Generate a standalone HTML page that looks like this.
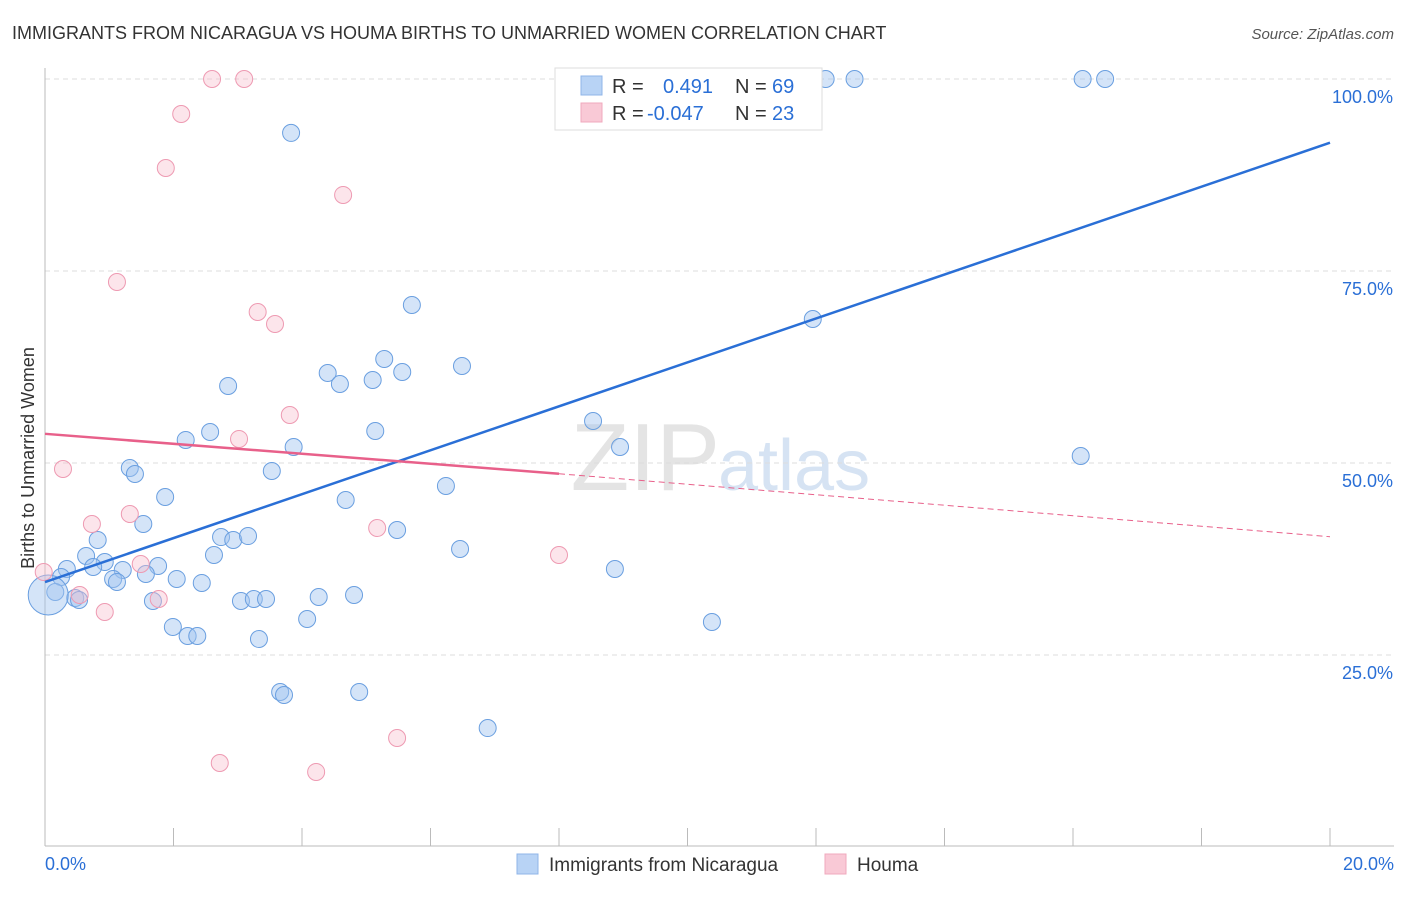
<!DOCTYPE html>
<html><head><meta charset="utf-8"><style>
body{margin:0;background:#fff;font-family:"Liberation Sans",sans-serif;}
svg text{font-family:"Liberation Sans",sans-serif;}
</style></head><body>
<svg id="chart" width="1406" height="892">
<text x="12" y="39" font-size="18" fill="#333">IMMIGRANTS FROM NICARAGUA VS HOUMA BIRTHS TO UNMARRIED WOMEN CORRELATION CHART</text>
<text x="1394" y="39" font-size="15" fill="#555" font-style="italic" text-anchor="end">Source: ZipAtlas.com</text>
<text x="720" y="490" font-size="96" fill="#e4e4e4" text-anchor="end" font-family="Liberation Serif">ZIP</text>
<text x="718" y="490" font-size="72" fill="#d6e3f3">atlas</text>
<g id="grid"></g><g id="axes"></g><g id="marks"></g>
<text transform="translate(34,458) rotate(-90)" font-size="18" fill="#333" text-anchor="middle">Births to Unmarried Women</text>
<g>
<rect x="555" y="68" width="267" height="62" fill="#fff" stroke="#ddd"/>
<rect x="581" y="76" width="21" height="19" fill="#b8d3f5" stroke="#8fb5e8"/>
<rect x="581" y="103" width="21" height="19" fill="#f9c9d6" stroke="#f0a9bd"/>
<text x="612" y="93" font-size="20" fill="#333">R = </text><text x="663" y="93" font-size="20" fill="#2a6fd6">0.491</text>
<text x="735" y="93" font-size="20" fill="#333">N = </text><text x="772" y="93" font-size="20" fill="#2a6fd6">69</text>
<text x="612" y="120" font-size="20" fill="#333">R = </text><text x="647" y="120" font-size="20" fill="#2a6fd6">-0.047</text>
<text x="735" y="120" font-size="20" fill="#333">N = </text><text x="772" y="120" font-size="20" fill="#2a6fd6">23</text>
</g>
<g>
<rect x="517" y="854" width="21" height="20" fill="#b8d3f5" stroke="#8fb5e8"/>
<text x="549" y="871" font-size="19" fill="#333">Immigrants from Nicaragua</text>
<rect x="825" y="854" width="21" height="20" fill="#f9c9d6" stroke="#f0a9bd"/>
<text x="857" y="871" font-size="19" fill="#333">Houma</text>
</g>
</svg>
<script>
const xTicks=[0,2,4,6,8,10,12,14,16,18,20];
const yTicks=[25,50,75,100];
const blueX=[12.15,12.6,16.15,16.5,23.1,3.83,5.71,11.95,5.28,4.4,4.59,5.1,5.56,6.49,2.85,2.57,2.19,5.14,3.87,8.53,8.95,16.12,1.32,1.4,3.53,1.87,4.68,6.24,1.53,5.48,0.82,2.74,2.93,3.16,6.46,0.64,0.93,2.63,0.34,0.75,1.76,1.21,8.87,0.25,1.06,1.57,2.05,2.44,1.12,0.16,0.47,0.53,1.68,3.05,3.25,3.44,4.26,4.81,10.38,4.08,1.99,2.22,2.37,3.33,3.66,3.72,4.89,6.89,0.05];
const blueY=[100,100,100,100,100,92.98,70.57,68.75,63.54,61.72,60.29,60.81,61.85,62.63,60.03,54.04,53.0,54.17,52.08,55.47,52.08,50.91,49.35,48.57,48.96,45.57,45.18,47.01,42.06,41.28,39.97,40.36,39.97,40.49,38.8,37.89,37.11,38.02,36.2,36.46,36.59,36.07,36.2,35.16,34.9,35.55,34.9,34.38,34.51,33.2,32.42,32.16,32.03,32.03,32.29,32.29,32.55,32.81,29.3,29.69,28.65,27.47,27.47,27.08,20.18,19.79,20.18,15.49,32.81];
const pinkX=[2.6,3.1,2.12,1.88,4.64,1.12,3.31,3.58,3.81,3.02,0.28,0.73,1.32,5.17,8.0,1.49,-0.02,0.54,1.77,0.93,2.72,4.22,5.48];
const pinkY=[100,100,95.44,88.41,84.9,73.57,69.66,68.1,56.25,53.13,49.22,42.06,43.36,41.54,38.02,36.85,35.81,32.81,32.29,30.6,10.94,9.77,14.19];
const blueLine=[[0,34.5],[20,91.7]];
const pinkLine=[[0,53.8],[8,48.6],[20,40.4]];
const X=v=>45+v/20*1285*(20/20)/1; // 20% -> 1330
const xs=v=>45+v*64.25, ys=v=>847-v*7.68;
const NS='http://www.w3.org/2000/svg';
function mk(t,a,p){const e=document.createElementNS(NS,t);for(const k in a)e.setAttribute(k,a[k]);p.appendChild(e);return e;}
const grid=document.getElementById('grid'),axes=document.getElementById('axes'),marks=document.getElementById('marks');
yTicks.forEach(v=>{const l=mk('line',{x1:45,x2:1394,y1:ys(v),y2:ys(v),stroke:'#ddd','stroke-dasharray':'5,4'},grid);


const t=mk('text',{x:1393,y:ys(v)+24,'font-size':18,fill:'#2a6fd6','text-anchor':'end'},axes);t.textContent=v.toFixed(1)+'%';

});
const ya=mk('line',{x1:45,x2:45,y1:68,y2:846,stroke:'#bbb'},axes);


const xa=mk('line',{x1:45,x2:1394,y1:846,y2:846,stroke:'#bbb'},axes);


xTicks.forEach(v=>{const l=mk('line',{x1:xs(v),x2:xs(v),y1:828,y2:846,stroke:'#bbb'},axes);

});
[[0,'start',45],[20,'end',1394]].forEach(([v,a,x])=>{const t=mk('text',{x:x,y:870,'font-size':18,fill:'#2a6fd6','text-anchor':a},axes);t.textContent=v.toFixed(1)+'%';

});
blueX.forEach((v,i)=>{const c=mk('circle',{cx:xs(v),cy:ys(blueY[i]),r:i==68?20:8.5,fill:'rgba(160,195,240,0.45)',stroke:'#6a9fe0','stroke-width':1},marks);

});
pinkX.forEach((v,i)=>{const c=mk('circle',{cx:xs(v),cy:ys(pinkY[i]),r:8.5,fill:'rgba(248,190,205,0.4)',stroke:'#ee9ab2','stroke-width':1},marks);

});
const bl=mk('line',{x1:xs(blueLine[0][0]),y1:ys(blueLine[0][1]),x2:xs(blueLine[1][0]),y2:ys(blueLine[1][1]),stroke:'#2a6fd6','stroke-width':2.5},marks);


const pl=mk('line',{x1:xs(pinkLine[0][0]),y1:ys(pinkLine[0][1]),x2:xs(pinkLine[1][0]),y2:ys(pinkLine[1][1]),stroke:'#e8608a','stroke-width':2.5},marks);


const pd=mk('line',{x1:xs(pinkLine[1][0]),y1:ys(pinkLine[1][1]),x2:xs(pinkLine[2][0]),y2:ys(pinkLine[2][1]),stroke:'#e8608a','stroke-width':1,'stroke-dasharray':'6,4'},marks);


</script>
</body></html>
